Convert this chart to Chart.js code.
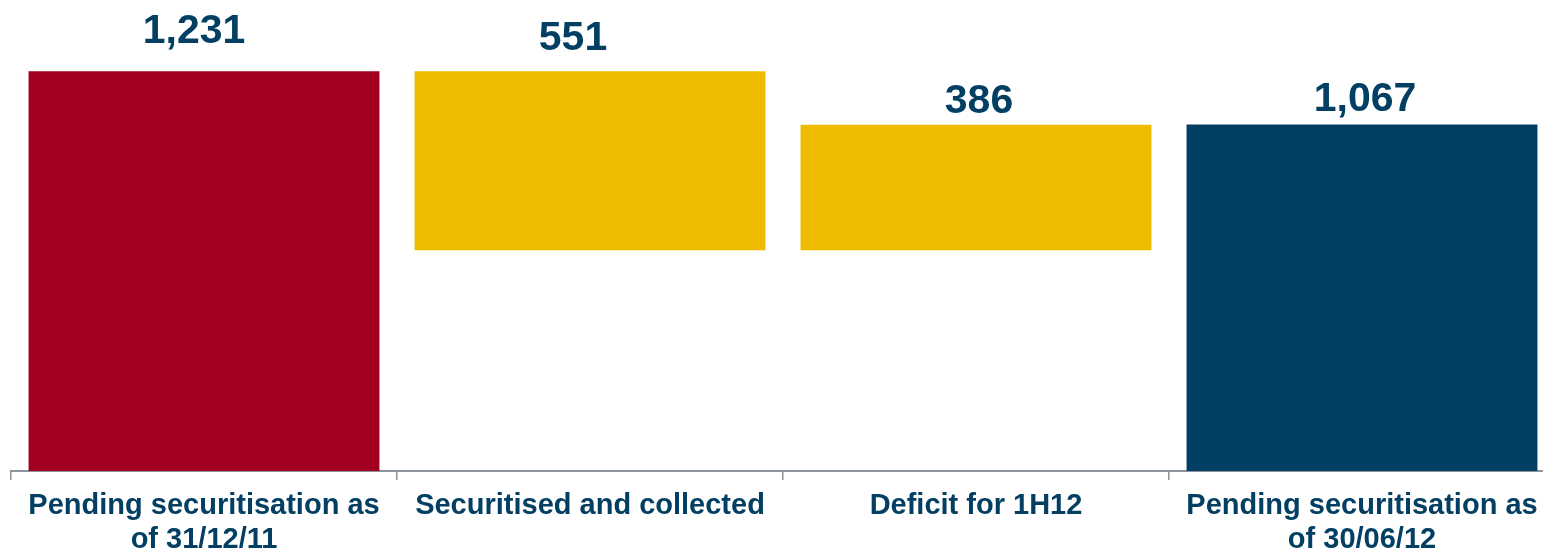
<!DOCTYPE html>
<html>
<head>
<meta charset="utf-8">
<script src="https://cdn.jsdelivr.net/npm/chart.js@4.4.1/dist/chart.umd.min.js"></script>
<style>
  html, body { margin: 0; padding: 0; background: #ffffff; overflow: hidden; }
  #wrap { width: 1555px; height: 566px; }
</style>
</head>
<body>
<div id="wrap"><canvas id="chart" width="1555" height="566"></canvas></div>
<script>
// Waterfall: opening balance, movements, closing balance (EUR m)
const categories = [
  ["Pending securitisation as", "of 31/12/11"],
  "Securitised and collected",
  "Deficit for 1H12",
  ["Pending securitisation as", "of 30/06/12"]
];
const amounts = [1231, -551, 386, 1067];
const kinds = ["total", "step", "step", "total"];
const barColors = ["#a30021", "#efbb00", "#efbb00", "#023f62"];

// Turn amounts into floating [low, high] ranges
const ranges = [];
let running = 0;
amounts.forEach((v, i) => {
  if (kinds[i] === "total") {
    ranges.push([0, v]);
    running = v;
  } else {
    const next = running + v;
    ranges.push([Math.min(running, next), Math.max(running, next)]);
    running = next;
  }
});

const textColor = "#023f62";
const fontFamily = "'Liberation Sans', Arial, Helvetica, sans-serif";

// Value labels above each bar
const valueLabels = {
  id: "valueLabels",
  afterDatasetsDraw(chart, args, opts) {
    const { ctx } = chart;
    const meta = chart.getDatasetMeta(0);
    ctx.save();
    ctx.font = "bold 41px " + fontFamily;
    ctx.fillStyle = textColor;
    ctx.textAlign = "center";
    ctx.textBaseline = "alphabetic";
    meta.data.forEach((bar, i) => {
      const top = Math.min(bar.y, bar.base);
      const text = Math.abs(amounts[i]).toLocaleString("en-US");
      ctx.fillText(text, bar.x + opts.dx[i], top - opts.gap[i]);
    });
    ctx.restore();
  }
};

new Chart(document.getElementById("chart"), {
  type: "bar",
  data: {
    labels: categories,
    datasets: [{
      data: ranges,
      backgroundColor: barColors,
      borderWidth: 0,
      barPercentage: 0.909,
      categoryPercentage: 1.0
    }]
  },
  options: {
    responsive: false,
    animation: false,
    events: [],
    layout: { padding: { left: 11, right: 0, top: 0, bottom: 0 } },
    plugins: {
      legend: { display: false },
      tooltip: { enabled: false },
      valueLabels: { dx: [-10, -17, 3, 3], gap: [28, 21, 12, 13] }
    },
    scales: {
      x: {
        grid: {
          display: true,
          drawOnChartArea: false,
          drawTicks: true,
          tickLength: 9,
          color: "#8c939c",
          lineWidth: 1.5
        },
        border: { display: true, color: "#8c939c", width: 2 },
        ticks: {
          color: textColor,
          font: { family: fontFamily, size: 29, weight: "bold", lineHeight: 1.172 },
          padding: 9,
          maxRotation: 0,
          minRotation: 0,
          autoSkip: false
        }
      },
      y: {
        display: false,
        min: 0,
        max: 1450
      }
    }
  },
  plugins: [valueLabels]
});
</script>
</body>
</html>
